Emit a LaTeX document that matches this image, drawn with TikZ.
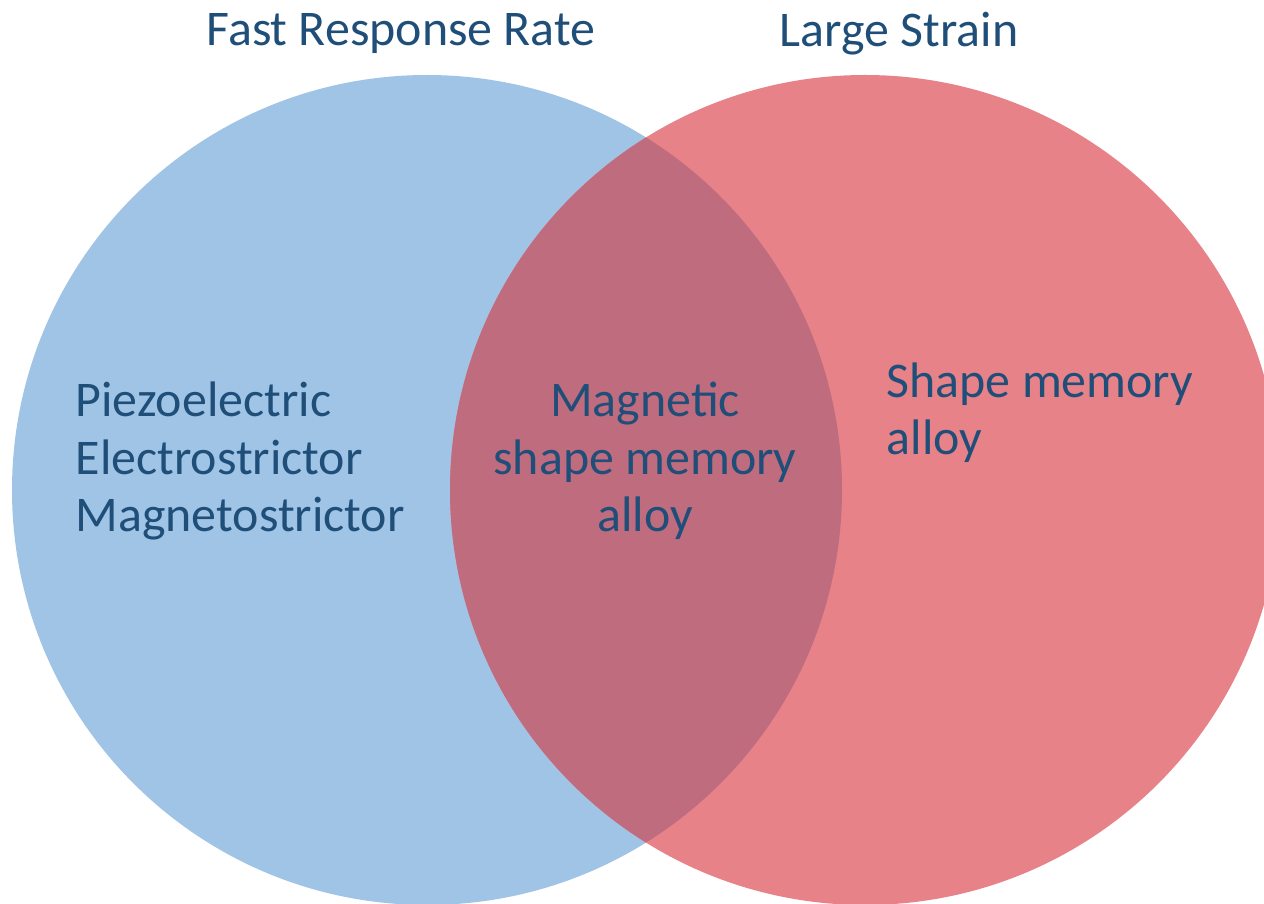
\documentclass[tikz,border=0pt]{standalone}
\usepackage{fontspec}
\setmainfont{Carlito}
\usetikzlibrary{positioning}
\definecolor{fastblue}{RGB}{160,196,229}
\definecolor{strainred}{RGB}{231,130,137}
\definecolor{overlapred}{RGB}{191,108,126}
\definecolor{labelblue}{RGB}{31,78,121}

\begin{document}
\begin{tikzpicture}[
    label/.style={text=labelblue, font=\fontsize{14.2}{16.3}\selectfont, inner sep=0pt},
    group/.style={label, align=left, anchor=west},
    title/.style={label}
]
\useasboundingbox (0,0) rectangle (12.64,9.03);
\clip (0,0) rectangle (12.64,9.03);

% Sets
\fill[fastblue] (4.27,4.13) circle (4.15);
\fill[strainred] (8.65,4.13) circle (4.15);
\begin{scope}
    \clip (4.27,4.13) circle (4.15);
    \fill[overlapred] (8.65,4.13) circle (4.15);
\end{scope}

% Set titles
\node[title] (fast) at (4.01,8.69) {Fast Response Rate};
\node[title] (strain) at (8.99,8.69) {Large Strain};

% Members
\node[group] (left) at (0.75,4.42) {Piezoelectric\\Electrostrictor\\Magnetostrictor};
\node[label, align=center] (both) at (6.45,4.42) {Magnetic\\shape memory\\alloy};
\node[group] (right) at (8.86,4.90) {Shape memory\\alloy};

\end{tikzpicture}
\end{document}
